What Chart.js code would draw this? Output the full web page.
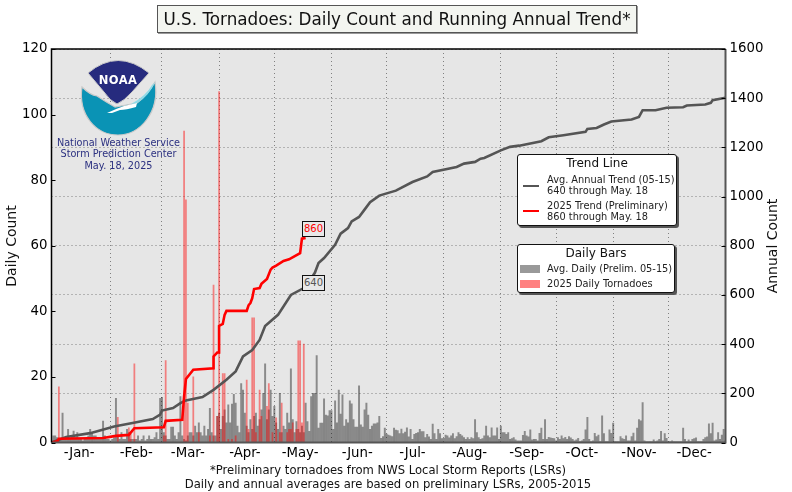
<!DOCTYPE html>
<html>
<head>
<meta charset="utf-8">
<title>U.S. Tornadoes</title>
<script src="https://cdn.jsdelivr.net/npm/chart.js@4/dist/chart.umd.min.js"></script>
<style>
html,body{margin:0;padding:0;background:#fff;}
body{width:792px;height:492px;position:relative;overflow:hidden;font-family:"DejaVu Sans",sans-serif;color:#111;}
canvas{position:absolute;left:0;top:0;}
.lbl{position:absolute;white-space:nowrap;}
.title{left:157px;top:5px;width:478px;height:26px;line-height:26px;text-align:center;font-size:16.8px;background:#f3f5f0;border:1px solid #555;box-shadow:1px 1px 0 #999;}
.axt{font-size:14px;transform:translate(-50%,-50%) rotate(-90deg);}
.foot{left:0;width:776px;text-align:center;font-size:11.6px;}
.nws{left:38px;width:161px;text-align:center;font-size:9.7px;color:#2b3080;}
.box{position:absolute;box-sizing:border-box;background:#fff;border:1.5px solid #111;border-radius:3px;box-shadow:2px 2px 0 #555;font-size:9.8px;color:#222;}
.box .h{position:absolute;left:0;right:0;text-align:center;font-size:12px;color:#111;}
.box .t{position:absolute;white-space:nowrap;line-height:11px;}
.box i{position:absolute;display:block;}
.tag{position:absolute;box-sizing:border-box;width:23px;height:16px;background:#e8e8e8;border:1.5px solid #111;font-size:10px;line-height:13px;text-align:center;}
</style>
</head>
<body>
<canvas id="myChart" width="792" height="492"></canvas>

<svg class="logo" style="position:absolute;left:0;top:0" width="792" height="492">
  <path d="M82 87 Q90 95 97 96 Q106 102 115 107 L137 103 Q148 95 155 82 C160 112 140 135 118 135 C96 135 78 115 82 87 Z" fill="#0a93b5" stroke="#c9c9c9" stroke-width="1.2"/>
  <path d="M88 73 Q118 48 149 73 L132 92 Q124 101 117 104 Q110 101 104 92 Z" fill="#262b7e" stroke="#c9c9c9" stroke-width="1"/>
  <path d="M107 113 Q118 108 124 106 L137 103 L136 107 Q126 110 120 110 L112 113 Z" fill="#fff"/>
  <path d="M155 82 Q149 96 137 103 L131 104 Q146 96 152 85 Z" fill="#8fdbe8"/>
  <text x="118" y="84" text-anchor="middle" font-family="DejaVu Sans" font-weight="bold" font-size="11.5" letter-spacing="0.4" fill="#fff">NOAA</text>
</svg>

<div class="lbl title">U.S. Tornadoes: Daily Count and Running Annual Trend*</div>
<div class="lbl axt" style="left:11px;top:246px">Daily Count</div>
<div class="lbl axt" style="left:772px;top:246px">Annual Count</div>
<div class="lbl foot" style="top:463px">*Preliminary tornadoes from NWS Local Storm Reports (LSRs)</div>
<div class="lbl foot" style="top:477px">Daily and annual averages are based on preliminary LSRs, 2005-2015</div>
<div class="lbl nws" style="top:137px">National Weather Service</div>
<div class="lbl nws" style="top:148px">Storm Prediction Center</div>
<div class="lbl nws" style="top:160px">May. 18, 2025</div>

<div class="box" style="left:517px;top:154px;width:160px;height:72px">
  <div class="h" style="top:1px">Trend Line</div>
  <i style="left:5px;top:30px;width:16px;height:2px;background:#555"></i>
  <div class="t" style="left:29px;top:19px">Avg. Annual Trend (05-15)<br>640 through May. 18</div>
  <i style="left:5px;top:55px;width:16px;height:2px;background:#f00"></i>
  <div class="t" style="left:29px;top:45px">2025 Trend (Preliminary)<br>860 through May. 18</div>
</div>
<div class="box" style="left:517px;top:244px;width:158px;height:49px">
  <div class="h" style="top:1px">Daily Bars</div>
  <i style="left:2px;top:20px;width:20px;height:8px;background:#999"></i>
  <div class="t" style="left:29px;top:18px">Avg. Daily (Prelim. 05-15)</div>
  <i style="left:2px;top:35px;width:20px;height:8px;background:#ff8080"></i>
  <div class="t" style="left:29px;top:33px">2025 Daily Tornadoes</div>
</div>
<div class="tag" style="left:302px;top:221px;color:#f00">860</div>
<div class="tag" style="left:302px;top:275px;color:#555">640</div>

<script>
var monthLabels = ['-Jan-','-Feb-','-Mar-','-Apr-','-May-','-Jun-','-Jul-','-Aug-','-Sep-','-Oct-','-Nov-','-Dec-'];
var monthMids = [15,46,74,105,135,166,196,227,258,288,319,349];
var monthEnds = [32,60,91,121,152,182,213,244,274,305,335];

// average daily bars, one value per day
var avgJan = [2,2,1.5,1,1,9,1,1,4,1,2,3.5,1.5,3,1,1,0.5,1,1,2,4,3,2,2,1,1,1,6.5,2,1,1];
var avgFeb = [0.5,1,1.5,13.5,2,1,3,1,1,4,3,1,1,1,1,2,0.5,1,2,0.5,1,2,1,1,1.5,3,1,13.5,13.8];
var avgMar = [3,2,1,1,4.7,4.7,2,1,3,14,2,1,0.5,2,3,3,2,5,3,6,3,2,5,2,4,10.4,3,2,2,8,9];
var avgApr = [4,8,10,6,11.5,6,11.7,14.7,12,5,3,18,16,9,5,3,7,4,8,9,5,7,10,15,24,7,10,16,8,11];
var avgMay = [6,4,15,3,5,4,9,6,22.5,7,3,6.4,4,3,5,3,12,6.4,3.4,14,15,15,26.5,4.4,5.9,5.9,13.3,8.4,8.1,9.7,9.7];
var avgJun = [4,12.7,6,16,8.7,14.5,5,7,6,12.7,11.8,7,4.7,4.7,17.3,5.4,4.7,10,12,8.4,4,5,5.7,5.7,6,8,1.3,1.8,4.4,2.6];
var avgJul = [2.3,2,1.8,4.4,3.8,3.6,2.7,4.1,2.7,3.2,4.5,1.7,4,1,2.5,2.8,3,4,3.3,3.3,1.5,2.5,1.7,1,5.6,2.7,1,4,2.7,1.2,1.3];
var avgAug = [2.3,2,1.4,2,2.7,1.2,1.8,3,2.5,2,1.5,1,1.5,1,1.5,1.2,7,3,1.5,1,1.2,2,5,2,1.5,4.5,2,2,4.5,1,5];
var avgSep = [3,3,2.5,3,1,1.2,1.5,0.8,0.5,0.5,0.5,2.2,3.4,2,1.7,3.9,0.8,1,1,0.5,2.8,4.4,1,7,1,1.6,1.4,1.3,1.2,0.5];
var avgOct = [1.5,1,2,1.2,1.6,1,1.8,1.4,1,0.5,0.8,1.3,0.3,0.5,1,3.9,7.7,1,0.3,0.5,2.8,1.8,2.3,0.3,8.1,2.7,0.3,0.3,3.9,2.8,5.9];
var avgNov = [0.3,0.3,0.3,1.8,1.2,1,2,0.5,0.5,1.8,2.9,0.5,4.4,7,6.6,12.2,0.5,0.3,0.3,0.3,0.3,0.8,0.3,0.5,1,3.4,0.5,2.7,1.3,0.3];
var avgDec = [0.3,0.5,0.3,0.3,0.3,0.3,0.3,4.4,1,0.3,0.8,0.3,1,1.2,1.4,0.3,0.3,0.3,1,1.5,1.7,5.7,2.7,5.9,0.5,0.8,3,1,2.3,4,0.5];
var avgDaily = [].concat(avgJan,avgFeb,avgMar,avgApr,avgMay,avgJun,avgJul,avgAug,avgSep,avgOct,avgNov,avgDec);

// 2025 daily bars
var redDays =   [4,36,42,43,45,61,62,72,73,74,77,80,86,88,90,91,93,94,96,98,100,106,107,109,110,111,113,114,117,118,120,122,124,125,128,129,130,131,133,134,135,136,137];
var redCounts = [17,7.7,4.5,2.5,24,2,25,95,74,12,20,3,2,48,8,107,21,21,1,1,2,19,4,38,38,3,16,8,11,18,3,7.5,3,12,3,4,4,6,4,31,31,6,30];

// running annual trends
var avgTrendDays =   [0,8,21,34,44,55,59,60,66,70,73,82,88,95,100,104,109,113,116,123,130,138,143,145,148,154,157,161,163,167,170,173,178,187,196,204,207,220,224,230,233,235,244,249,254,266,270,278,290,291,296,300,304,315,319,321,328,334,343,345,355,358,359,366];
var avgTrendCounts = [0,22,38,65,79,95,113,130,140,160,171,185,214,255,289,350,376,417,474,519,600,632,690,730,750,804,849,872,899,917,947,977,1004,1024,1059,1082,1100,1120,1134,1141,1154,1157,1188,1202,1207,1225,1241,1249,1263,1275,1279,1293,1305,1313,1324,1351,1351,1361,1363,1370,1374,1381,1392,1402];
var trend2025Days =   [0,3,4,28,35,42,45,61,62,71,72,73,77,88,88,90,91,91,93,94,95,106,107,108,109,110,113,114,117,119,120,122,126,129,135,136,138];
var trend2025Counts = [0,5,15,18,27,31,58,62,88,92,187,258,296,302,350,366,366,474,482,519,535,535,558,567,587,624,628,645,665,703,711,719,738,745,770,829,832];

function pairs(xs, ys) {
    return xs.map(function(x, i) { return {x: x, y: ys[i]}; });
}

// background of the plot
const plotBack = {
    id: 'plotBack',
    beforeDraw(chart) {
        var a = chart.chartArea, c = chart.ctx;
        c.save();
        c.fillStyle = '#e6e6e6';
        c.fillRect(a.left, a.top, a.width, a.height);
        c.restore();
    }
};

// frame and inward tick marks
const frame = {
    id: 'frame',
    afterDatasetsDraw(chart) {
        var a = chart.chartArea, c = chart.ctx, s = chart.scales;
        c.save();
        c.strokeStyle = '#555';
        c.lineWidth = 2;
        c.beginPath();
        c.moveTo(a.left, a.bottom); c.lineTo(a.right, a.bottom); c.lineTo(a.right, a.top);
        c.stroke();
        c.strokeStyle = '#000';
        c.lineWidth = 1.5;
        c.beginPath();
        c.moveTo(a.left, a.bottom); c.lineTo(a.left, a.top); c.lineTo(a.right, a.top);
        c.stroke();
        c.lineWidth = 1;
        s.y.ticks.forEach(function(t) {
            var p = Math.round(s.y.getPixelForValue(t.value)) + 0.5;
            c.beginPath(); c.moveTo(a.left, p); c.lineTo(a.left + 4, p); c.stroke();
        });
        s.y1.ticks.forEach(function(t) {
            var p = Math.round(s.y1.getPixelForValue(t.value)) + 0.5;
            c.beginPath(); c.moveTo(a.right, p); c.lineTo(a.right - 4, p); c.stroke();
        });
        c.restore();
    }
};

new Chart(document.getElementById('myChart').getContext('2d'), {
    data: {
        datasets: [
            {type: 'line', data: pairs(trend2025Days, trend2025Counts), xAxisID: 'x', yAxisID: 'y1', borderColor: '#ff0000', borderWidth: 2.6, pointRadius: 0, tension: 0, order: 1},
            {type: 'line', data: pairs(avgTrendDays, avgTrendCounts), xAxisID: 'x', yAxisID: 'y1', borderColor: '#555555', borderWidth: 2.6, pointRadius: 0, tension: 0, order: 2},
            {type: 'bar', data: pairs(redDays, redCounts), xAxisID: 'x', yAxisID: 'y', backgroundColor: 'rgba(255,0,0,0.45)', barThickness: 1.1, grouped: false, order: 3},
            {type: 'bar', data: avgDaily.map(function(v, i) { return {x: i + 1, y: v}; }), xAxisID: 'x', yAxisID: 'y', backgroundColor: 'rgba(0,0,0,0.4)', barThickness: 1.3, grouped: false, order: 4}
        ]
    },
    options: {
        responsive: false,
        animation: false,
        devicePixelRatio: 1,
        layout: {padding: {top: 49}},
        plugins: {legend: {display: false}, tooltip: {enabled: false}},
        scales: {
            x: {
                type: 'linear', position: 'bottom', min: 0, max: 366, offset: false,
                afterBuildTicks: function(scale) { scale.ticks = monthMids.map(function(v) { return {value: v}; }); },
                afterFit: function(scale) { scale.height = 49.5; },
                grid: {display: false, drawTicks: false, offset: false},
                border: {display: false},
                ticks: {
                    autoSkip: false, maxRotation: 0, padding: 3, color: '#000',
                    font: {family: 'DejaVu Sans', size: 13.3},
                    callback: function(value) { return monthLabels[monthMids.indexOf(value)]; }
                }
            },
            xGrid: {
                type: 'linear', position: 'top', min: 0, max: 366, offset: false,
                afterBuildTicks: function(scale) { scale.ticks = monthEnds.map(function(v) { return {value: v}; }); },
                afterFit: function(scale) { scale.height = 0; },
                grid: {color: '#808080', lineWidth: 1, drawTicks: false, offset: false},
                border: {display: false, dash: [1, 3]},
                ticks: {display: false}
            },
            y: {
                position: 'left', min: 0, max: 120,
                afterFit: function(scale) { scale.width = 51.5; },
                grid: {display: false, drawTicks: false},
                border: {display: false},
                ticks: {stepSize: 20, padding: 4, color: '#000', font: {family: 'DejaVu Sans', size: 13.3}}
            },
            y1: {
                position: 'right', min: 0, max: 1600,
                afterFit: function(scale) { scale.width = 66.5; },
                grid: {color: '#808080', lineWidth: 1, drawTicks: false},
                border: {display: false, dash: [1, 3]},
                ticks: {
                    stepSize: 200, padding: 4, color: '#000', font: {family: 'DejaVu Sans', size: 13.3},
                    callback: function(value) { return String(value); }
                }
            }
        }
    },
    plugins: [plotBack, frame]
});
</script>
</body>
</html>
